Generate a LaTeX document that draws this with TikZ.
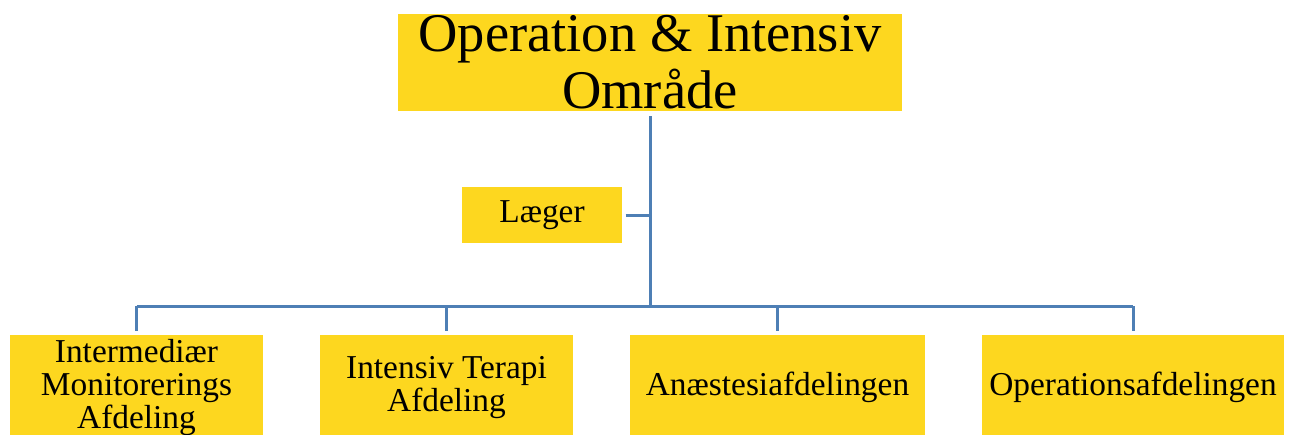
\documentclass[tikz,border=0pt]{standalone}
\usepackage{fontspec}
\setmainfont{Liberation Serif}
\usetikzlibrary{positioning}

\definecolor{boxyellow}{HTML}{FDD71F}
\definecolor{linkblue}{HTML}{4E7FB5}

\begin{document}
\begin{tikzpicture}[
        node distance=1.14cm,
        box/.style={rectangle, fill=boxyellow, inner sep=0pt, outer sep=0pt, align=center, font=\fontsize{19}{19}\selectfont},
        link/.style={draw=linkblue, line width=1.7pt}
    ]
        \clip (0,0) rectangle (25.84,-8.68);
        \node[box, minimum width=10.08cm, minimum height=1.94cm, font=\fontsize{31}{32.5}\selectfont] (area) at (13.0,-1.25) {Operation \& Intensiv\\Område};
        \node[box, minimum width=3.2cm, minimum height=1.12cm] (laeger) at (10.84,-4.3) {Læger};

        \node[box, minimum width=5.06cm, minimum height=2.1cm] (imo) at (2.73,-7.75) {Intermediær\\Monitorerings\\Afdeling};
        \node[box, minimum width=5.06cm, minimum height=2.1cm, right=of imo] (ita) {Intensiv Terapi\\Afdeling};
        \node[box, minimum width=5.9cm, minimum height=2.1cm, right=of ita] (anaest) {Anæstesiafdelingen};
        \node[box, minimum width=6.04cm, minimum height=2.1cm, right=of anaest] (opafd) {Operationsafdelingen};

        \coordinate (bus) at (0,-6.12);
        \draw[link, shorten <=3pt] (area.south) -- (area.south |- bus);
        \draw[link, shorten <=2pt] (laeger.east) -- (laeger.east -| area.south);
        \draw[link] (imo.north |- bus) -- (opafd.north |- bus);
        \foreach \dept in {imo, ita, anaest, opafd}
            \draw[link, shorten >=2pt] (\dept.north |- bus) -- (\dept.north);
    \end{tikzpicture}
\end{document}
